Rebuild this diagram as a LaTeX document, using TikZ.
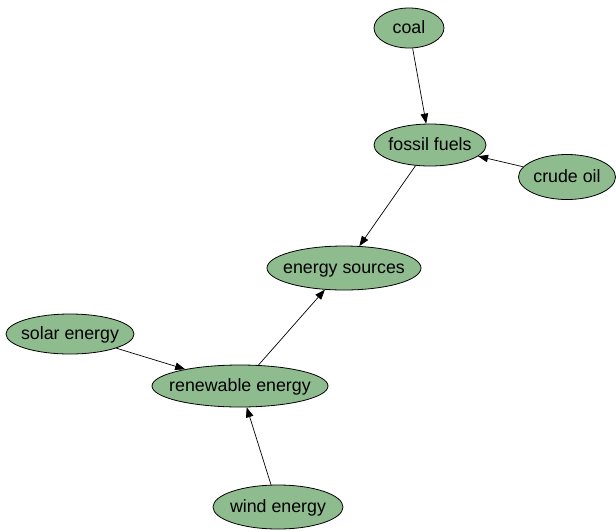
\documentclass[tikz,border=0pt]{standalone}
\usepackage{fontspec}
\setmainfont{Liberation Sans}
\usetikzlibrary{shapes.geometric,arrows.meta}
\definecolor{nodegreen}{HTML}{8FBC8F}
% zero-width label so the ellipse keeps its given size
\newcommand{\flatlabel}[1]{\makebox[0pt]{#1}}
\begin{document}
\begin{tikzpicture}[x=1pt,y=-1pt,
  concept/.style={ellipse,draw=black,fill=nodegreen,line width=0.8pt,
    inner sep=0pt,text height=14pt,text depth=4pt,
    font=\fontsize{17.8}{20}\selectfont},
  link/.style={draw=black,line width=0.7pt,-{Triangle[length=10pt,width=7.5pt]}}]
\useasboundingbox (0,0) rectangle (616,531);
\node[concept,minimum width=70pt,minimum height=40pt] (coal) at (409,28) {\flatlabel{coal}};
\node[concept,minimum width=112pt,minimum height=42pt] (fossil) at (430,145) {\flatlabel{fossil fuels}};
\node[concept,minimum width=97pt,minimum height=45pt] (crude) at (567,177) {\flatlabel{crude oil}};
\node[concept,minimum width=154pt,minimum height=44pt] (sources) at (344,268) {\flatlabel{energy sources}};
\node[concept,minimum width=128pt,minimum height=40pt] (solar) at (70,334) {\flatlabel{solar energy}};
\node[concept,minimum width=176pt,minimum height=42pt] (renew) at (240,386) {\flatlabel{renewable energy}};
\node[concept,minimum width=130pt,minimum height=44pt] (wind) at (278,507) {\flatlabel{wind energy}};
\draw[link] (coal) -- (fossil);
\draw[link] (crude) -- (fossil);
\draw[link] (fossil) -- (sources);
\draw[link] (renew) -- (sources);
\draw[link] (solar) -- (renew);
\draw[link] (wind) -- (renew);
\end{tikzpicture}
\end{document}
